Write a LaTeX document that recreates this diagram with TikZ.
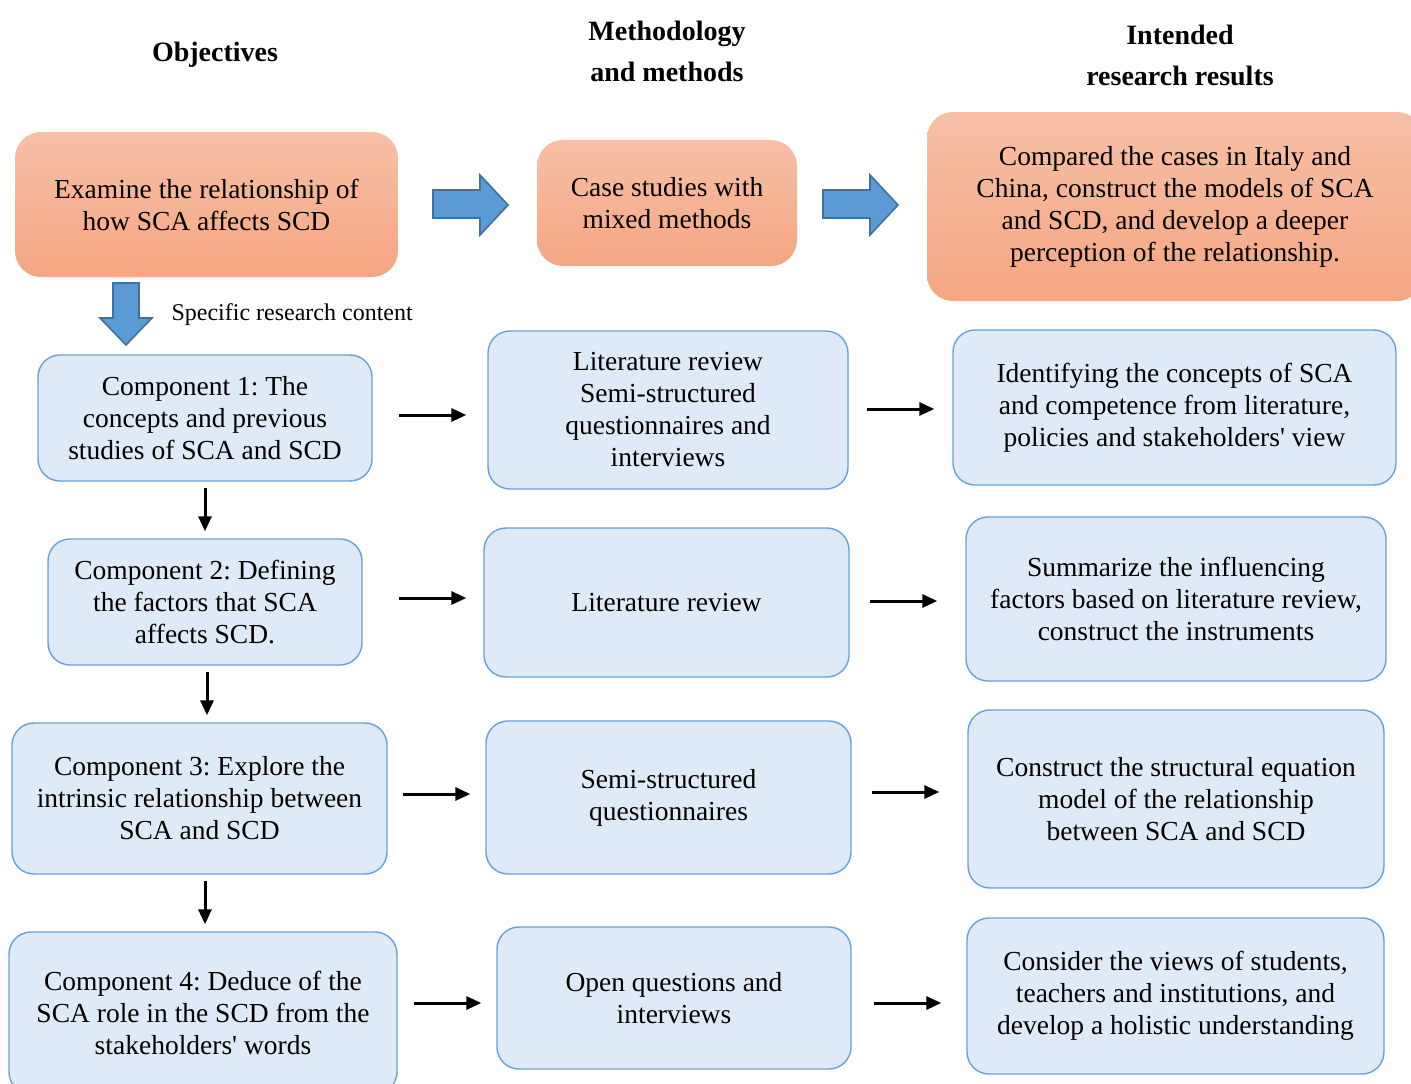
\documentclass[tikz,border=0pt]{standalone}
\usepackage{fontspec}
\setmainfont{Liberation Serif}[Ligatures=TeXOff]
\usetikzlibrary{arrows.meta}
\frenchspacing

\definecolor{bluefill}{RGB}{222,234,247}
\definecolor{blueline}{RGB}{104,161,218}
\definecolor{orangetop}{RGB}{247,192,167}
\definecolor{orangebot}{RGB}{245,166,130}
\definecolor{arrowfill}{RGB}{91,155,213}
\definecolor{arrowline}{RGB}{65,113,156}

\tikzset{
  boxtext/.style={align=center, font=\fontsize{27.5}{32}\selectfont\frenchspacing, text=black},
  headtext/.style={align=center, font=\fontsize{28}{41}\selectfont\bfseries},
  orangebox/.style={boxtext, rounded corners=26pt, top color=orangetop, bottom color=orangebot, draw=none},
  bluebox/.style={boxtext, rounded corners=22pt, fill=bluefill, draw=blueline, line width=1.4pt},
  arr/.style={-{Triangle[length=15pt,width=13pt]}, line width=3pt, black},
  blockarrow/.style={fill=arrowfill, draw=arrowline, line width=1.6pt, line join=miter},
}

\begin{document}
\begin{tikzpicture}[x=1pt,y=-1pt]
\useasboundingbox (0,0) rectangle (1411,1084);

% column headings
\node[headtext] (h1) at (215,55) {Objectives};
\node[headtext] (h2) at (667,51.5) {Methodology\\and methods};
\node[headtext] (h3) at (1180,55.5) {Intended\\research results};

% top row
\node[orangebox, minimum width=383pt, minimum height=145pt] (o1) at (206.5,204.5)
  {Examine the relationship of\\how SCA affects SCD};
\node[orangebox, minimum width=260pt, minimum height=126pt] (o2) at (667,203)
  {Case studies with\\mixed methods};
\node[orangebox, minimum width=496pt, minimum height=189pt] (o3) at (1175,206.5)
  {Compared the cases in Italy and\\China, construct the models of SCA\\and SCD, and develop a deeper\\perception of the relationship.};

% block arrows between the objective, method and result
\draw[blockarrow] (433,190) -- (480,190) -- (480,175) -- (508,205) -- (480,235) -- (480,218) -- (433,218) -- cycle;
\draw[blockarrow] (823,190) -- (870,190) -- (870,175) -- (898,205) -- (870,235) -- (870,218) -- (823,218) -- cycle;
\draw[blockarrow] (113,283) -- (139,283) -- (139,318) -- (152,318) -- (126,345) -- (100,318) -- (113,318) -- cycle;
\node[boxtext, anchor=west, font=\fontsize{24}{28}\selectfont] (spec) at (168,315) {Specific research content};

% component 1
\node[bluebox, minimum width=334pt, minimum height=126pt] (l1) at (205,418)
  {Component 1: The\\concepts and previous\\studies of SCA and SCD};
\node[bluebox, minimum width=360pt, minimum height=158pt] (m1) at (668,410)
  {Literature review\\Semi-structured\\questionnaires and\\interviews};
\node[bluebox, minimum width=443pt, minimum height=155pt] (r1) at (1174.5,407.5)
  {Identifying the concepts of SCA\\and competence from literature,\\policies and stakeholders' view};

% component 2
\node[bluebox, minimum width=314pt, minimum height=126pt] (l2) at (205,602)
  {Component 2: Defining\\the factors that SCA\\affects SCD.};
\node[bluebox, minimum width=365pt, minimum height=149pt] (m2) at (666.5,602.5)
  {Literature review};
\node[bluebox, minimum width=420pt, minimum height=164pt] (r2) at (1176,599)
  {Summarize the influencing\\factors based on literature review,\\construct the instruments};

% component 3
\node[bluebox, minimum width=375pt, minimum height=151pt] (l3) at (199.5,798.5)
  {Component 3: Explore the\\intrinsic relationship between\\SCA and SCD};
\node[bluebox, minimum width=365pt, minimum height=153pt] (m3) at (668.5,797.5)
  {Semi-structured\\questionnaires};
\node[bluebox, minimum width=416pt, minimum height=178pt] (r3) at (1176,799)
  {Construct the structural equation\\model of the relationship\\between SCA and SCD};

% component 4
\node[bluebox, minimum width=388pt, minimum height=162pt] (l4) at (203,1013)
  {Component 4: Deduce of the\\SCA role in the SCD from the\\stakeholders' words};
\node[bluebox, minimum width=354pt, minimum height=142pt] (m4) at (674,998)
  {Open questions and\\interviews};
\node[bluebox, minimum width=417pt, minimum height=156pt] (r4) at (1175.5,996)
  {Consider the views of students,\\teachers and institutions, and\\develop a holistic understanding};

% horizontal links: component -> method -> result
\draw[arr, shorten <=26pt, shorten >=21pt] ([yshift=3pt]l1.east) -- ([yshift=3pt]l1.east -| m1.west);
\draw[arr, shorten <=18pt, shorten >=18pt] ([yshift=1pt]m1.east) -- ([yshift=1pt]m1.east -| r1.west);
\draw[arr, shorten <=36pt, shorten >=17pt] ([yshift=4pt]l2.east) -- ([yshift=4pt]l2.east -| m2.west);
\draw[arr, shorten <=20pt, shorten >=28pt] ([yshift=1.5pt]m2.east) -- ([yshift=1.5pt]m2.east -| r2.west);
\draw[arr, shorten <=15pt, shorten >=15pt] ([yshift=4.5pt]l3.east) -- ([yshift=4.5pt]l3.east -| m3.west);
\draw[arr, shorten <=20pt, shorten >=28pt] ([yshift=5.5pt]m3.east) -- ([yshift=5.5pt]m3.east -| r3.west);
\draw[arr, shorten <=16pt, shorten >=15pt] ([yshift=10pt]l4.east) -- ([yshift=10pt]l4.east -| m4.west);
\draw[arr, shorten <=22pt, shorten >=25pt] ([yshift=-5pt]m4.east) -- ([yshift=-5pt]m4.east -| r4.west);

% vertical links between components
\draw[arr, shorten <=6pt, shorten >=7pt] (l1.south) -- (l1.south |- l2.north);
\draw[arr, shorten <=6pt, shorten >=7pt] ([xshift=2pt]l2.south) -- ([xshift=2pt]l2.south |- l3.north);
\draw[arr, shorten <=6pt, shorten >=7pt] ([xshift=5.5pt]l3.south) -- ([xshift=5.5pt]l3.south |- l4.north);
\end{tikzpicture}
\end{document}
